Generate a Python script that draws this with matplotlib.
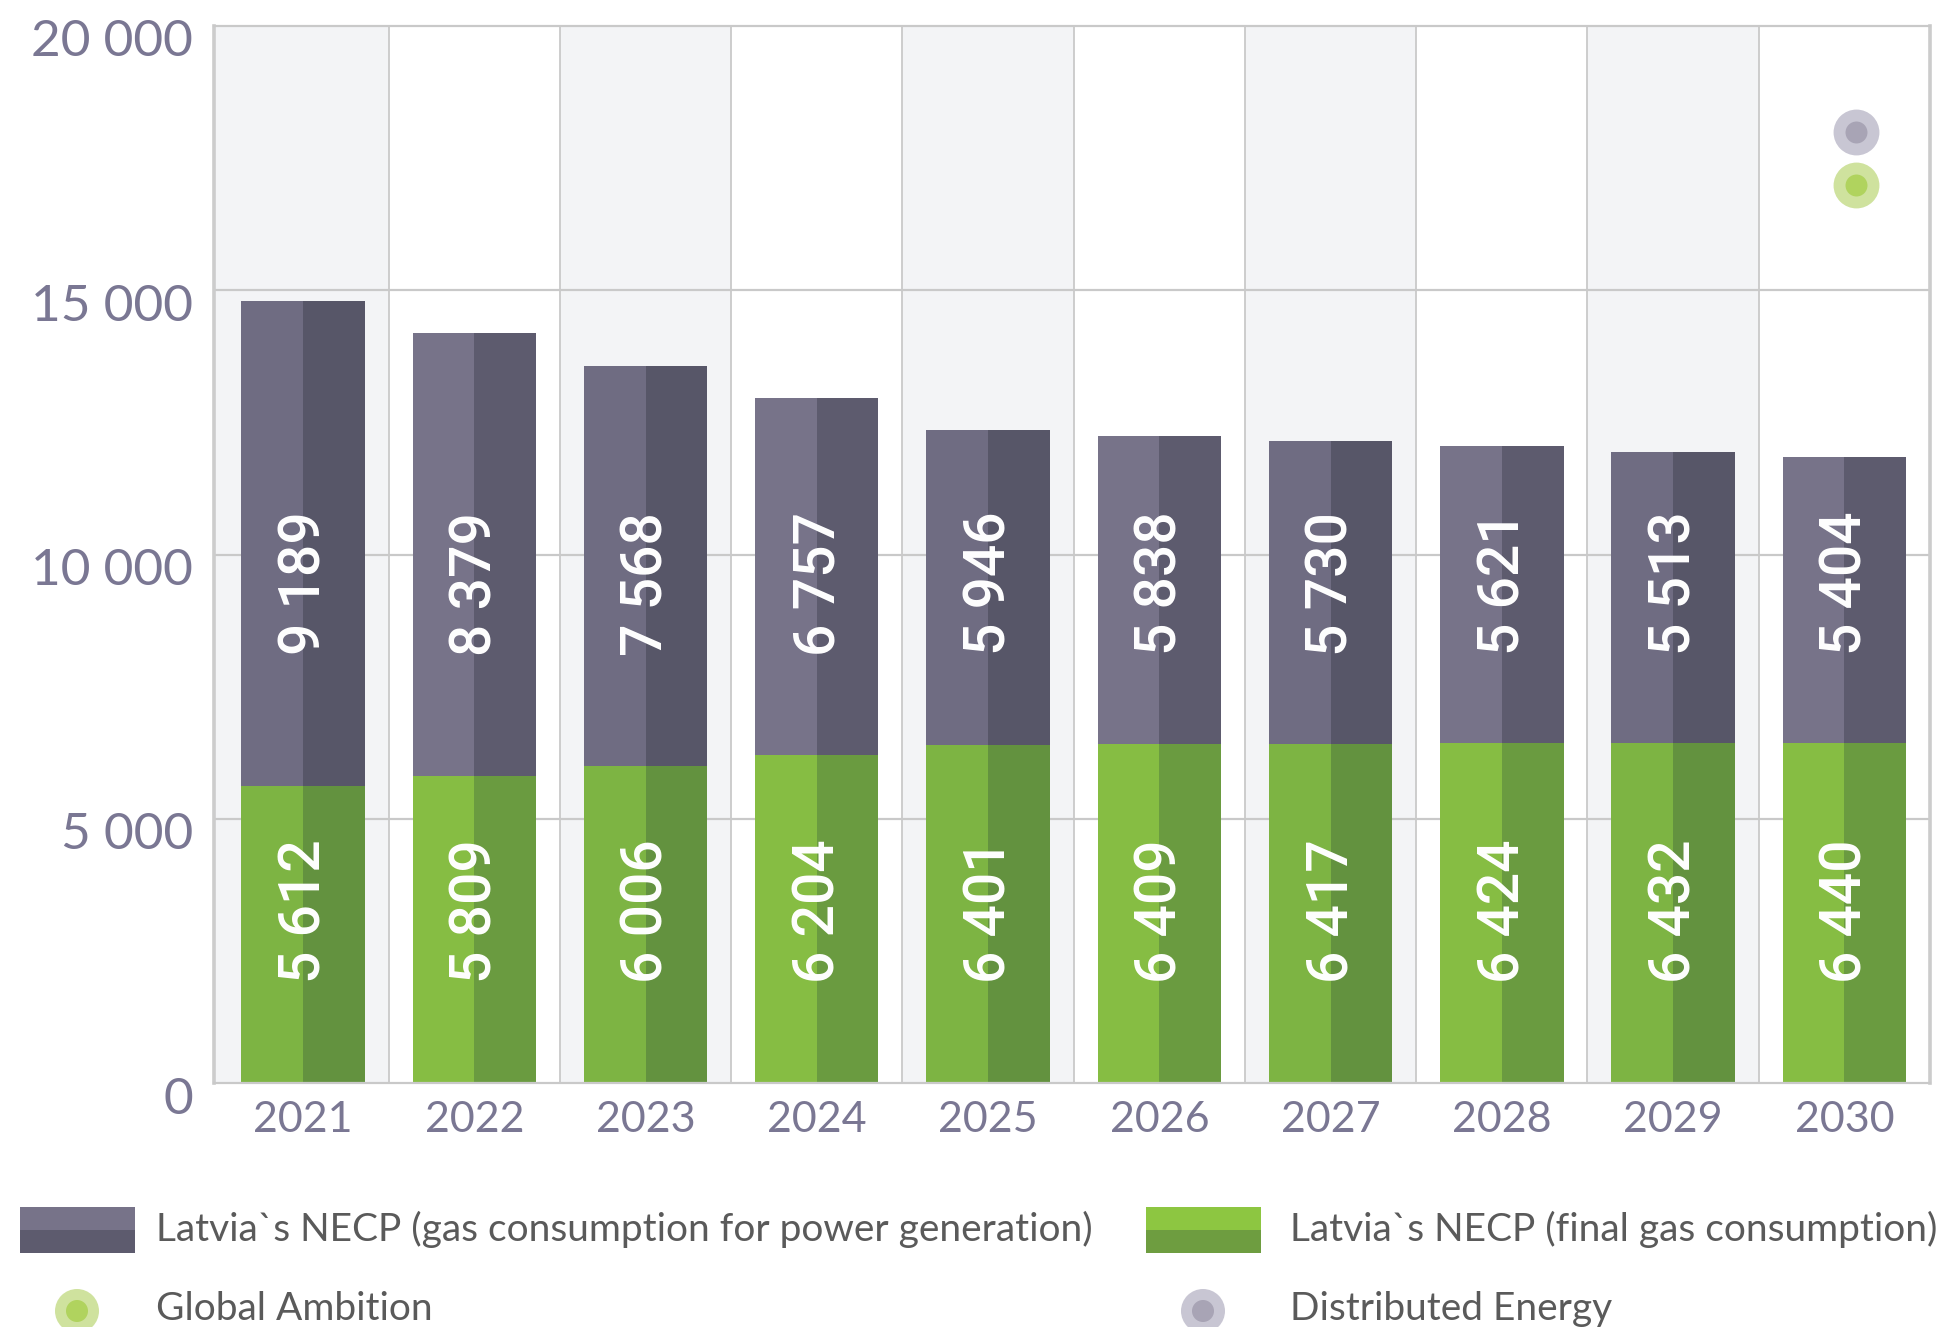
import matplotlib
matplotlib.use('Agg')
import matplotlib.pyplot as plt
from matplotlib.patches import Rectangle, Circle
from matplotlib.transforms import ScaledTranslation
import numpy as np

# ---------------- data ----------------
years = ['2021', '2022', '2023', '2024', '2025', '2026', '2027', '2028', '2029', '2030']
power_generation = [9189, 8379, 7568, 6757, 5946, 5838, 5730, 5621, 5513, 5404]
final_consumption = [5612, 5809, 6006, 6204, 6401, 6409, 6417, 6424, 6432, 6440]
scenario_names = ['Distributed Energy', 'Global Ambition']
scenario_year = '2030'
scenario_values = [18000, 17000]
y_ticks = [0, 5000, 10000, 15000, 20000]
y_tick_labels = ['0', '5 000', '10 000', '15 000', '20 000']
legend_labels = ['Latvia`s NECP (gas consumption for power generation)',
                 'Latvia`s NECP (final gas consumption)',
                 'Global Ambition', 'Distributed Energy']


def fmt(v):
    return f"{v:,}".replace(',', ' ')


W, H = 1946, 1327
fig = plt.figure(figsize=(W / 100, H / 100), dpi=100)
fig.patch.set_facecolor('white')

ax_left, ax_right, ax_top, ax_bottom = 214, 1930, 26, 1083
ax = fig.add_axes([ax_left / W, 1 - ax_bottom / H, (ax_right - ax_left) / W, (ax_bottom - ax_top) / H])
x = np.arange(len(years))
ax.set_xlim(-0.52, len(years) - 0.5)
ax.set_ylim(0, 20000)
ax.set_facecolor('white')

grid_c = '#c9c9c9'
# alternating column shading
for i in x:
    if i % 2 == 0:
        ax.axvspan(i - 0.52 if i == 0 else i - 0.5, i + 0.5, color='#f3f4f6', zorder=0, lw=0)
# grid lines
for yv in y_ticks[1:-1]:
    ax.axhline(yv, color=grid_c, lw=1.6, zorder=1)
for i in x[:-1]:
    ax.axvline(i + 0.5, color=grid_c, lw=1.3, zorder=1)

for side in ['left', 'right']:
    ax.spines[side].set_color('#cccccc')
    ax.spines[side].set_linewidth(2.6)
for side in ['top', 'bottom']:
    ax.spines[side].set_color(grid_c)
    ax.spines[side].set_linewidth(1.6)

# colours (left/right halves; shaded columns slightly darker)
gray_L = ['#6f6c82', '#777389']
gray_R = ['#575668', '#5d5b6e']
green_L = ['#7db443', '#86bd43']
green_R = ['#63923f', '#6a9b40']

bw = 0.72
half = bw / 2
for i in x:
    k = i % 2
    ax.bar(i - half / 2, final_consumption[i], width=half, color=green_L[k], lw=0, zorder=2)
    ax.bar(i + half / 2, final_consumption[i], width=half, color=green_R[k], lw=0, zorder=2)
    ax.bar(i - half / 2, power_generation[i], bottom=final_consumption[i], width=half,
           color=gray_L[k], lw=0, zorder=2)
    ax.bar(i + half / 2, power_generation[i], bottom=final_consumption[i], width=half,
           color=gray_R[k], lw=0, zorder=2)
    ax.text(i + 0.01, 9450, fmt(power_generation[i]), rotation=90, ha='center', va='center',
            color='white', fontsize=41, family='Roboto', fontweight='medium', zorder=4)
    ax.text(i + 0.01, 3250, fmt(final_consumption[i]), rotation=90, ha='center', va='center',
            color='white', fontsize=41, family='Roboto', fontweight='medium', zorder=4)

# scenario dots
xi = years.index(scenario_year)
dot_outer = {'Distributed Energy': '#c8c6d3', 'Global Ambition': '#cfe29e'}
dot_inner = {'Distributed Energy': '#a8a4b5', 'Global Ambition': '#b0d35e'}
for name, val in zip(scenario_names, scenario_values):
    ax.scatter([xi + 0.065], [val], s=1090, color=dot_outer[name], lw=0, zorder=3)
    ax.scatter([xi + 0.065], [val], s=250, color=dot_inner[name], lw=0, zorder=3)

tick_c = '#7a7793'
ax.set_yticks(y_ticks, y_tick_labels)
ax.set_xticks(x, years)
ax.tick_params(axis='y', length=0, pad=15, labelsize=37, labelcolor=tick_c)
ax.tick_params(axis='x', length=0, pad=13, labelsize=31, labelcolor=tick_c)
for lab in ax.get_yticklabels():
    lab.set_family('Lato')
    lab.set_transform(lab.get_transform() + ScaledTranslation(0, -0.12, fig.dpi_scale_trans))
for lab in ax.get_xticklabels():
    lab.set_family('Lato')

# ---------------- legend ----------------
leg = fig.add_axes([0, 0, 1, 1], zorder=5)
leg.set_xlim(0, W)
leg.set_ylim(H, 0)
leg.axis('off')
leg.patch.set_alpha(0)

sq = [(20, '#777389', '#5d5b6e', 156), (1146, '#8dc641', '#6e9d40', 1290)]
for (x0, ctop, cbot, tx), lab in zip(sq, legend_labels[:2]):
    leg.add_patch(Rectangle((x0, 1207), 115, 23, color=ctop, lw=0))
    leg.add_patch(Rectangle((x0, 1230), 115, 23, color=cbot, lw=0))
    leg.text(tx, 1229, lab, va='center', ha='left', fontsize=28, family='Lato',
             fontweight='normal', color='#5a5a5a')

circ = [(77, '#cfe29e', '#b0d35e', 156), (1203, '#c8c6d3', '#a8a4b5', 1290)]
for (cx, co, ci, tx), lab in zip(circ, legend_labels[2:]):
    leg.add_patch(Circle((cx, 1311), 22, color=co, lw=0))
    leg.add_patch(Circle((cx, 1311), 11, color=ci, lw=0))
    leg.text(tx, 1309, lab, va='center', ha='left', fontsize=28, family='Lato',
             fontweight='normal', color='#5a5a5a')

fig.savefig('out.png', dpi=100, facecolor='white')
